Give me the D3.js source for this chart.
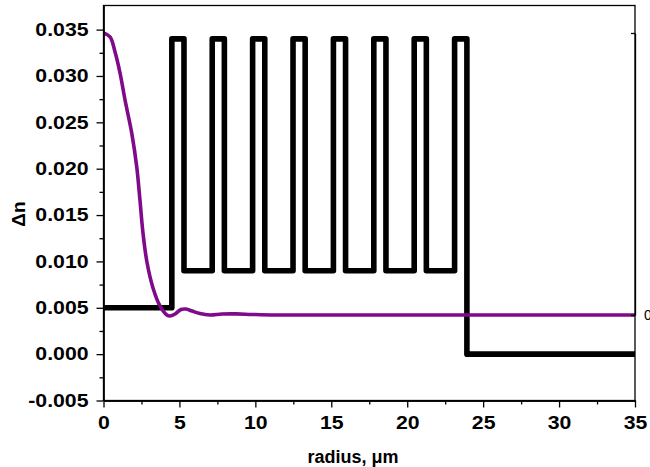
<!DOCTYPE html>
<html>
<head>
<meta charset="utf-8">
<script src="https://cdn.jsdelivr.net/npm/d3@7"></script>
<style>
  html, body { margin: 0; padding: 0; background: #fff; }
  svg { display: block; }
  .lbl { font-family: "Liberation Sans", Arial, sans-serif; font-weight: bold; font-size: 18px; fill: #000; }
</style>
</head>
<body>
<svg id="chart" width="650" height="467"></svg>
<script>
// Refractive-index profile (step segments)
const coreRadius = 4.5;
const coreIndex = 0.005;
const ringStart = [4.5, 7.16, 9.82, 12.48, 15.14, 17.8, 20.46, 23.12];
const ringEnd   = [5.3, 7.96, 10.62, 13.28, 15.94, 18.6, 21.26, 23.93];
const ringIndex = 0.034;
const trenchIndex = 0.009;
const claddingIndex = 0.0;
const outerRadius = 35;

// Normalised mode field (right axis)
const fieldRadius = [0, 0.43, 0.76, 1.09, 1.42, 1.86, 2.19, 2.40, 2.60, 2.86, 3.26, 3.72, 4.15, 4.38, 4.71, 5.10, 5.43, 5.83, 6.35, 7.01, 7.80, 8.72, 9.78, 11.3, 14, 20, 28, 35];
const fieldValue  = [1.0, 0.986, 0.933, 0.858, 0.762, 0.645, 0.525, 0.408, 0.291, 0.188, 0.096, 0.032, 0.001, -0.0035, 0.0035, 0.0195, 0.021, 0.014, 0.005, 0.0, 0.0035, 0.004, 0.002, 0, 0, 0, 0, 0];

// Axis ticks
const xTicks = [0, 5, 10, 15, 20, 25, 30, 35];
const xMinor = [2.5, 7.5, 12.5, 17.5, 22.5, 27.5, 32.5];
const yTicks = [-0.005, 0.000, 0.005, 0.010, 0.015, 0.020, 0.025, 0.030, 0.035];
const yMinor = [-0.0025, 0.0025, 0.0075, 0.0125, 0.0175, 0.0225, 0.0275, 0.0325];
const rightTicks = [0, 1];

const L = 103.5, R = 635, T = 5.5, B = 400.5;
const svg = d3.select("#chart");

const x = d3.scaleLinear().domain([0, 35]).range([L, R]);
const y = d3.scaleLinear().domain([-0.005, 0.0376]).range([B, T]);
const y2 = d3.scaleLinear().domain([0, 1]).range([315, 33]);

// widen glyphs horizontally
function widen(sel, f) {
  sel.each(function () {
    const w = this.getComputedTextLength();
    if (w > 0) {
      this.setAttribute("textLength", w * f);
      this.setAttribute("lengthAdjust", "spacingAndGlyphs");
    }
  });
}

// profile path
const profile = [[0, coreIndex], [coreRadius, coreIndex]];
ringStart.forEach((s, i) => {
  if (i > 0) profile.push([s, trenchIndex]);
  profile.push([s, ringIndex]);
  profile.push([ringEnd[i], ringIndex]);
  if (i < ringStart.length - 1) profile.push([ringEnd[i], trenchIndex]);
});
profile.push([ringEnd[ringEnd.length - 1], claddingIndex]);
profile.push([outerRadius, claddingIndex]);

svg.append("defs").append("clipPath").attr("id", "plotClip")
  .append("rect").attr("x", L).attr("y", T).attr("width", R - L).attr("height", B - T);

const plot = svg.append("g").attr("clip-path", "url(#plotClip)");

plot.append("path")
  .datum(profile)
  .attr("fill", "none")
  .attr("stroke", "#000")
  .attr("stroke-width", 5.6)
  .attr("stroke-linejoin", "round")
  .attr("d", d3.line().x(d => x(d[0])).y(d => y(d[1])));

plot.append("path")
  .datum(fieldRadius.map((r, i) => [r, fieldValue[i]]))
  .attr("fill", "none")
  .attr("stroke", "#800a8a")
  .attr("stroke-width", 3.6)
  .attr("stroke-linejoin", "round")
  .attr("d", d3.line().curve(d3.curveCatmullRom.alpha(0.5)).x(d => x(d[0])).y(d => y2(d[1])));

// frame
svg.append("rect").attr("x", L).attr("y", T).attr("width", R - L).attr("height", B - T)
  .attr("fill", "none").attr("stroke", "#000").attr("stroke-width", 1.3);

// bottom axis
const gx = svg.append("g").attr("transform", `translate(0,${B})`)
  .call(d3.axisBottom(x).tickValues(xTicks).tickFormat(d3.format("d")).tickSizeInner(7).tickSizeOuter(0).tickPadding(9));
svg.append("g").attr("transform", `translate(0,${B})`)
  .call(d3.axisBottom(x).tickValues(xMinor).tickFormat("").tickSizeInner(4).tickSizeOuter(0));

// left axis (hyphen as the minus sign)
const fmt3 = d3.format(".3f");
const gy = svg.append("g").attr("transform", `translate(${L},0)`)
  .call(d3.axisLeft(y).tickValues(yTicks).tickFormat(d => fmt3(d).replace("\u2212", "-")).tickSizeInner(7).tickSizeOuter(0).tickPadding(8));
svg.append("g").attr("transform", `translate(${L},0)`)
  .call(d3.axisLeft(y).tickValues(yMinor).tickFormat("").tickSizeInner(4).tickSizeOuter(0));

// right axis (mode field)
const gr = svg.append("g").attr("transform", `translate(${R},0)`)
  .call(d3.axisRight(y2).tickValues(rightTicks).tickFormat(d => d === 0 ? "0" : "").tickSizeInner(-4).tickSizeOuter(0).tickPadding(9));
gr.selectAll("text").attr("font-family", "Liberation Sans, Arial, sans-serif").attr("font-size", 14).attr("fill", "#000");

svg.selectAll(".domain").attr("stroke", "#000").attr("stroke-width", 1.3);
svg.selectAll(".tick line").attr("stroke", "#000").attr("stroke-width", 1.3);

[gx, gy].forEach(g => {
  g.selectAll("text").attr("class", "lbl").attr("font-size", null).attr("font-family", null);
  widen(g.selectAll("text"), 1.18);
});

// axis titles
svg.append("text").attr("class", "lbl")
  .attr("x", 353).attr("y", 463).attr("text-anchor", "middle")
  .text("radius, μm");

svg.append("text").attr("class", "lbl")
  .attr("transform", "translate(25,214) rotate(-90)")
  .attr("text-anchor", "middle")
  .style("font-size", "19px")
  .text("Δn");
</script>
</body>
</html>
